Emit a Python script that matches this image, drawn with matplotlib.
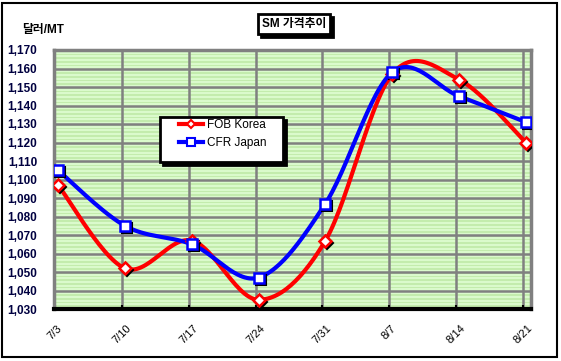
import numpy as np
import matplotlib
matplotlib.use('Agg')
import matplotlib.pyplot as plt
import matplotlib.transforms as mtransforms
from matplotlib.patches import Rectangle

plt.rcParams['font.family'] = ['Liberation Sans', 'Noto Sans CJK KR', 'DejaVu Sans']

# 데이터
dates = ['7/3', '7/10', '7/17', '7/24', '7/31', '8/7', '8/14', '8/21']
fob_korea = [1097, 1052, 1067, 1035, 1067, 1157, 1154, 1120]
cfr_japan = [1105, 1075, 1065, 1047, 1087, 1158, 1145, 1131]
y_ticks = list(range(1030, 1171, 10))


# 엑셀 스타일 부드러운 선 (Catmull-Rom)
def smooth(xs, ys, n=30):
    xs = np.asarray(xs, float)
    ys = np.asarray(ys, float)
    px = np.concatenate([[xs[0]], xs, [xs[-1]]])
    py = np.concatenate([[ys[0]], ys, [ys[-1]]])
    out_x, out_y = [], []
    t = np.linspace(0, 1, n)
    for i in range(1, len(px) - 2):
        for P, out in ((px, out_x), (py, out_y)):
            p0, p1, p2, p3 = P[i - 1], P[i], P[i + 1], P[i + 2]
            m1 = (p2 - p0) / 2
            m2 = (p3 - p1) / 2
            h00 = 2 * t**3 - 3 * t**2 + 1
            h10 = t**3 - 2 * t**2 + t
            h01 = -2 * t**3 + 3 * t**2
            h11 = t**3 - t**2
            out.extend(h00 * p1 + h10 * m1 + h01 * p2 + h11 * m2)
    return np.array(out_x), np.array(out_y)


fig = plt.figure(figsize=(5.61, 3.61), dpi=100)
ax = fig.add_axes([54 / 561, 1 - 309 / 361, 477 / 561, 259 / 361])

x = np.arange(len(dates))
ax.set_xlim(-0.015, 7.12)
ax.set_ylim(1030, 1170)

# 배경 줄무늬
ax.set_facecolor('#c3ecad')
for yy in range(1030, 1170, 2):
    ax.axhspan(yy, yy + 1.1, color='#dafacc', lw=0, zorder=0)

# 그리드
for yy in y_ticks[1:-1]:
    ax.axhline(yy, color='#808080', lw=1.8, zorder=1)
for xx in x[1:]:
    ax.axvline(xx, color='#808080', lw=1.8, zorder=1)

shift = mtransforms.offset_copy(ax.transData, fig, x=3, y=0, units='dots')
shadow2 = mtransforms.offset_copy(ax.transData, fig, x=5, y=-2, units='dots')

series = [
    (fob_korea, 'red', 'D', 6, 'FOB Korea'),
    (cfr_japan, 'blue', 's', 7.5, 'CFR Japan'),
]
handles = []
for vals, col, mk, ms, label in series:
    sx, sy = smooth(x, vals)
    ax.plot(sx, sy, color=col, lw=3, zorder=3, transform=shift, solid_capstyle='round')
    ax.plot(x, vals, ls='none', marker=mk, ms=ms, mfc='black', mec='black',
            mew=1.5, zorder=4, transform=shadow2)
    ax.plot(x, vals, ls='none', marker=mk, ms=ms, mfc='white', mec=col,
            mew=1.8, zorder=5, transform=shift)
    h, = ax.plot([], [], color=col, lw=3, marker=mk, ms=ms - 1.5, mfc='white',
                 mec=col, mew=1.5, label=label)
    handles.append(h)

# 축
for side in ['top', 'left', 'right']:
    ax.spines[side].set_color('#808080')
    ax.spines[side].set_linewidth(2.5)
ax.spines['bottom'].set_color('black')
ax.spines['bottom'].set_linewidth(3)

ax.set_yticks(y_ticks)
ax.set_yticklabels([f'{v:,}' for v in y_ticks], fontsize=8.5, fontweight='bold',
                   color='#000040')
ax.tick_params(axis='y', length=0, pad=12)
ax.set_xticks(x)
ax.set_xticklabels(dates, rotation=45, fontsize=8, ha='center', va='top')
ax.tick_params(axis='x', direction='in', length=3, width=1.5, color='black', pad=10)

# 범례 상자 (그림자 포함)
lx0, ly0, lw_, lh_ = 0.222, 0.568, 0.258, 0.173
box_shadow = mtransforms.offset_copy(ax.transAxes, fig, x=3, y=-3, units='dots')
ax.add_patch(Rectangle((lx0, ly0), lw_, lh_, transform=box_shadow,
                       fc='black', ec='black', lw=2, zorder=9))
ax.add_patch(Rectangle((lx0, ly0), lw_, lh_, transform=ax.transAxes,
                       fc='white', ec='black', lw=2, zorder=9.5))
leg = ax.legend(handles=handles, loc='upper left', bbox_to_anchor=(0.262, 0.732),
                frameon=False, fontsize=8.5, handlelength=2.0, borderpad=0,
                borderaxespad=0, labelspacing=0.5, handletextpad=0.35)
leg.set_zorder(10)

# 제목
title = fig.text(294 / 561, 1 - 24 / 361, 'SM 가격추이', ha='center', va='center',
                 fontsize=8.5, fontweight='bold', zorder=5,
                 bbox=dict(boxstyle='square,pad=0.3', fc='white', ec='black', lw=2))

fig.text(22 / 561, 1 - 30 / 361, '달러/MT', ha='left', va='center',
         fontsize=8.5, fontweight='bold')

# 외곽선
fig.patches.append(Rectangle((2 / 561, 4 / 361), 555 / 561, 354 / 361,
                             transform=fig.transFigure, fill=False, ec='black', lw=1.5))

# 제목 상자 그림자
fig.canvas.draw()
bb = title.get_bbox_patch().get_window_extent()
fig.patches.append(Rectangle((bb.x0 + 3, bb.y0 - 3), bb.width, bb.height,
                             transform=None, fc='black', ec='black', lw=2, zorder=1))

fig.savefig('out.png', dpi=100)
